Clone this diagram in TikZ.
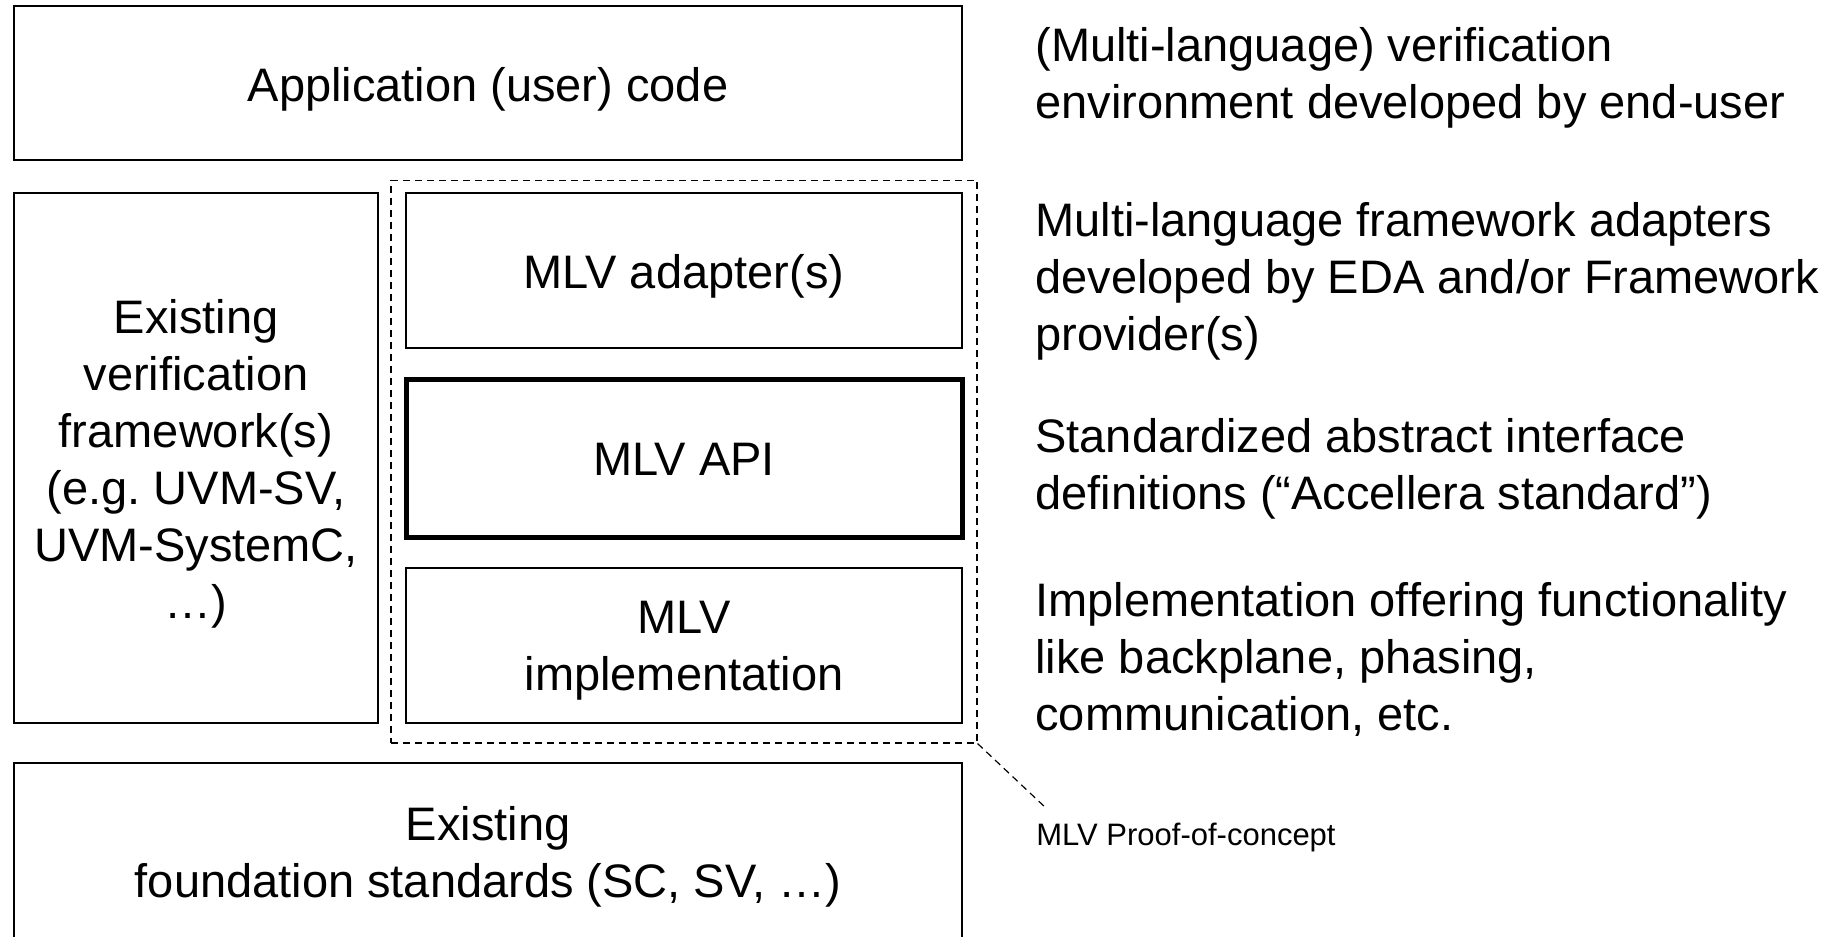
\documentclass[tikz,border=0pt]{standalone}
\usepackage{fontspec}
\setmainfont{Liberation Sans}
\frenchspacing
\begin{document}
\begin{tikzpicture}[x=0.5pt,y=-0.5pt,
  layer/.style={draw=black,line width=0.7pt,inner sep=0pt,outer sep=0pt},
  apilayer/.style={draw=black,line width=2.5pt,inner sep=0pt,outer sep=0pt},
  pocline/.style={draw=black,line width=0.6pt,dash pattern=on 3.5pt off 2.5pt},
  boxtext/.style={font=\fontsize{23.5pt}{28.5pt}\selectfont,align=center,inner sep=0pt},
  note/.style={font=\fontsize{23.5pt}{28.5pt}\selectfont,align=left,inner sep=0pt,anchor=west},
  smallnote/.style={font=\fontsize{15.5pt}{18pt}\selectfont,inner sep=0pt,anchor=base west}]
\useasboundingbox (0,0) rectangle (1845,936);
\clip (0,0) rectangle (1845,936);

% layer boxes
\node[layer,minimum width=474pt,minimum height=77pt] (app) at (488,83) {};
\node[layer,minimum width=182pt,minimum height=265pt] (fw) at (196,458) {};
\node[pocline,inner sep=0pt,minimum width=293pt,minimum height=281.25pt] (poc) at (684,461.75) {};
\node[layer,minimum width=278pt,minimum height=77.5pt] (adapter) at (684,270.5) {};
\node[apilayer,minimum width=278pt,minimum height=79pt] (api) at (684,458) {};
\node[layer,minimum width=278pt,minimum height=77.5pt] (impl) at (684,645.5) {};
\node[layer,minimum width=474pt,minimum height=98.5pt] (found) at (488,861.5) {};

% box captions
\node[boxtext] (apptxt) at (488,90.6) {\strut Application (user) code};
\node[boxtext] (fwtxt) at (196,464.6) {\strut Existing\\\strut verification\\\strut framework(s)\\\strut (e.g. UVM-SV,\\\strut UVM-SystemC,\\\strut …)};
\node[boxtext] (adaptertxt) at (684,276.6) {\strut MLV adapter(s)};
\node[boxtext] (apitxt) at (684,463.6) {\strut MLV API};
\node[boxtext] (impltxt) at (684,650.1) {\strut MLV\\\strut implementation};
\node[boxtext] (foundtxt) at (488,857.6) {\strut Existing\\\strut foundation standards (SC, SV, …)};

% descriptions on the right
\node[note] (n1) at (1035,79.1) {\strut (Multi-language) verification\\\strut environment developed by end-user};
\node[note] (n2) at (1035,282.1) {\strut Multi-language framework adapters\\\strut developed by EDA and/or Framework\\\strut provider(s)};
\node[note] (n3) at (1035,469.6) {\strut Standardized abstract interface\\\strut definitions (“Accellera standard”)};
\node[note] (n4) at (1035,662.1) {\strut Implementation offering functionality\\\strut like backplane, phasing,\\\strut communication, etc.};

% proof-of-concept callout
\node[smallnote] (poclabel) at (1036,845) {MLV Proof-of-concept};
\coordinate (pocend) at (1047,809);
\draw[pocline] (poc.south east) -- (pocend);
\end{tikzpicture}
\end{document}
